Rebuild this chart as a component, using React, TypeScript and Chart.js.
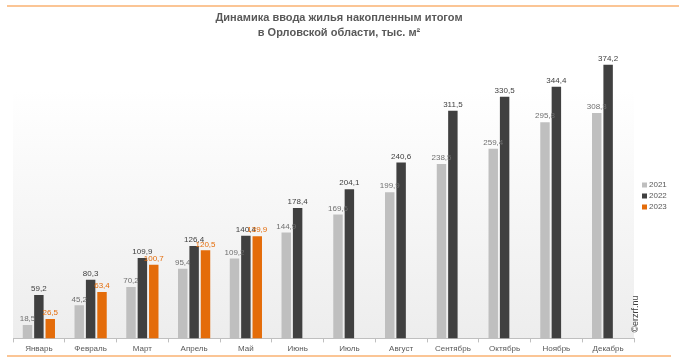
import React, { useEffect, useRef } from "react";
import { Chart, registerables } from "chart.js";

Chart.register(...registerables);

const months = ["Январь", "Февраль", "Март", "Апрель", "Май", "Июнь", "Июль", "Август", "Сентябрь", "Октябрь", "Ноябрь", "Декабрь"];
const series2021 = [18.5, 45.2, 70.2, 95.4, 109.2, 144.9, 169.6, 199.9, 238.5, 259.4, 295.8, 308.3];
const series2022 = [59.2, 80.3, 109.9, 126.4, 140.4, 178.4, 204.1, 240.6, 311.5, 330.5, 344.4, 374.2];
const series2023 = [26.5, 63.4, 100.7, 120.5, 139.9, null, null, null, null, null, null, null];
const seriesNames = ["2021", "2022", "2023"];
const titleLines = ["Динамика ввода жилья накопленным итогом", "в Орловской области, тыс. м²"];
const watermark = "©erzrf.nu";

const colors = ["#bfbfbf", "#404040", "#e46c0a"];
const labelColors = ["#6f6f6f", "#404040", "#e46c0a"];
const FONT = "'Liberation Sans', Arial, sans-serif";

const fmt = (v: number) => v.toFixed(1).replace(".", ",");

const decorPlugin = {
  id: "decor",
  beforeDraw(chart: any) {
    const { ctx, chartArea } = chart;
    ctx.save();
    ctx.fillStyle = "#fbc595";
    ctx.fillRect(7, 5, 672, 2);
    ctx.fillRect(7, 355, 664, 2);
    const g = ctx.createLinearGradient(0, chartArea.top, 0, chartArea.bottom);
    g.addColorStop(0, "rgba(255,255,255,1)");
    g.addColorStop(0.15, "rgba(255,255,255,1)");
    g.addColorStop(1, "#ededed");
    ctx.fillStyle = g;
    ctx.fillRect(chartArea.left, chartArea.top, chartArea.right - chartArea.left, chartArea.bottom - chartArea.top);
    ctx.restore();
  },
  afterDraw(chart: any) {
    const { ctx } = chart;
    ctx.save();
    ctx.fillStyle = "#595959";
    ctx.font = `bold 11px ${FONT}`;
    ctx.textAlign = "center";
    ctx.textBaseline = "middle";
    ctx.fillText(titleLines[0], 339, 18);
    ctx.fillText(titleLines[1], 339, 33);
    ctx.font = `8px ${FONT}`;
    ctx.textAlign = "left";
    const ly = [185, 196, 207];
    seriesNames.forEach((n, i) => {
      ctx.fillStyle = colors[i];
      ctx.fillRect(642, ly[i] - 2.5, 5, 5);
      ctx.fillStyle = "#595959";
      ctx.fillText(n, 649, ly[i]);
    });
    ctx.translate(636, 314);
    ctx.rotate(-Math.PI / 2);
    ctx.font = `9px ${FONT}`;
    ctx.fillStyle = "#404040";
    ctx.textAlign = "center";
    ctx.fillText(watermark, 0, 0);
    ctx.restore();
  },
  afterDatasetsDraw(chart: any) {
    const { ctx } = chart;
    ctx.save();
    ctx.font = `8px ${FONT}`;
    ctx.textAlign = "center";
    ctx.textBaseline = "bottom";
    chart.data.datasets.forEach((ds: any, di: number) => {
      const meta = chart.getDatasetMeta(di);
      meta.data.forEach((el: any, i: number) => {
        const v = ds.data[i];
        if (v === null || v === undefined) return;
        ctx.fillStyle = labelColors[di];
        ctx.fillText(fmt(v), el.x, el.y - 2);
      });
    });
    ctx.restore();
  },
};

export default function App() {
  const ref = useRef<HTMLCanvasElement>(null);
  useEffect(() => {
    if (!ref.current) return;
    const chart = new Chart(ref.current, {
      type: "bar",
      data: {
        labels: months,
        datasets: [
          { label: seriesNames[0], data: series2021, backgroundColor: colors[0] },
          { label: seriesNames[1], data: series2022, backgroundColor: colors[1] },
          { label: seriesNames[2], data: series2023 as any, backgroundColor: colors[2] },
        ],
      },
      options: {
        responsive: false,
        animation: false,
        events: [],
        layout: { padding: { left: 13, right: 45, top: 46, bottom: 8 } },
        datasets: { bar: { categoryPercentage: 0.66, barPercentage: 0.83 } } as any,
        plugins: { legend: { display: false }, title: { display: false }, tooltip: { enabled: false } },
        scales: {
          x: {
            offset: true,
            grid: { display: true, drawOnChartArea: false, drawTicks: true, tickLength: 4, color: "#bfbfbf", offset: true },
            border: { color: "#bfbfbf" },
            ticks: { color: "#595959", font: { size: 8, family: FONT }, padding: 2, maxRotation: 0, autoSkip: false },
          },
          y: { display: false, min: 0, max: 400 },
        },
      },
      plugins: [decorPlugin],
    });
    return () => chart.destroy();
  }, []);
  return (
    <div style={{ position: "absolute", left: 0, top: 0, width: 679, height: 364, background: "#fff" }}>
      <canvas ref={ref} width={679} height={364} style={{ display: "block" }} />
    </div>
  );
}
